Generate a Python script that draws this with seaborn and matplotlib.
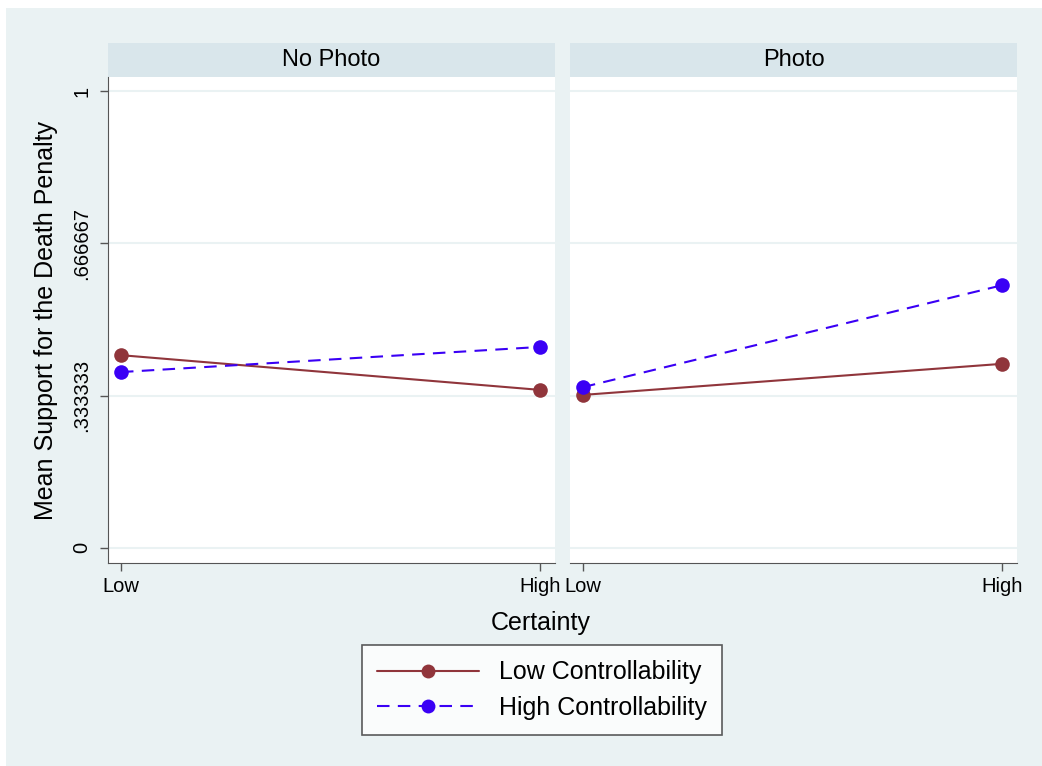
import numpy as np
import pandas as pd
import matplotlib
matplotlib.use("Agg")
import matplotlib.pyplot as plt
import seaborn as sns
from matplotlib.patches import Rectangle
from matplotlib.lines import Line2D

# values
certainty = ["Low", "High"]
photo = ["No Photo", "Photo"]
groups = ["Low Controllability", "High Controllability"]
low_ctrl_no_photo = [0.422, 0.346]
high_ctrl_no_photo = [0.385, 0.440]
low_ctrl_photo = [0.335, 0.403]
high_ctrl_photo = [0.352, 0.575]
yticks = [0, 1/3, 2/3, 1]
ytick_labels = ["0", ".333333", ".666667", "1"]

rows = []
for ph, lo, hi in [(photo[0], low_ctrl_no_photo, high_ctrl_no_photo),
                   (photo[1], low_ctrl_photo, high_ctrl_photo)]:
    for i, c in enumerate(certainty):
        rows.append({"photo": ph, "x": i, "group": groups[0], "support": lo[i]})
        rows.append({"photo": ph, "x": i, "group": groups[1], "support": hi[i]})
df = pd.DataFrame(rows)

bg = "#EAF2F3"
strip = "#D9E6EB"
maroon = "#90353B"
blue = "#3A00F5"
axcol = "#555555"

sns.set_style("white")
plt.rcParams["font.family"] = ["Liberation Sans", "DejaVu Sans"]
plt.rcParams["text.color"] = "black"
plt.rcParams["xtick.color"] = axcol
plt.rcParams["ytick.color"] = axcol
plt.rcParams["xtick.labelcolor"] = "black"
plt.rcParams["ytick.labelcolor"] = "black"

fig = plt.figure(figsize=(10.42, 7.66), dpi=100)
fig.patch.set_facecolor("white")
fig.patches.append(Rectangle((6/1042, 0), 1, 1 - 8/766, transform=fig.transFigure,
                             facecolor=bg, edgecolor="none", zorder=-10))

bottom = (766 - 563) / 766
height = 486 / 766
lefts = [108 / 1042, 570 / 1042]
width = 447 / 1042
palette = {groups[0]: maroon, groups[1]: blue}
dashes = {groups[0]: "", groups[1]: (6, 4)}

axes = []
for k, ph in enumerate(photo):
    ax = fig.add_axes([lefts[k], bottom, width, height])
    ax.set_facecolor("white")
    for y in yticks:
        ax.axhline(y, color=bg, lw=1.5, zorder=0)
    sns.lineplot(data=df[df["photo"] == ph], x="x", y="support", hue="group",
                 style="group", palette=palette, dashes=dashes,
                 markers={groups[0]: "o", groups[1]: "o"}, markersize=10.5,
                 markeredgewidth=0, linewidth=1.5, legend=False, ax=ax, zorder=3)
    ax.set_xlim(-0.031, 1.036)
    ax.set_ylim(-0.033, 1.031)
    ax.set_xticks([0, 1])
    ax.set_xticklabels(certainty, fontsize=14.5)
    ax.set_xlabel("")
    ax.set_ylabel("")
    for s in ["top", "right"]:
        ax.spines[s].set_visible(False)
    ax.spines["bottom"].set_color(axcol)
    ax.spines["left"].set_color(axcol)
    ax.tick_params(axis="x", bottom=True, length=6, width=1, color=axcol, pad=4)
    if k == 0:
        ax.set_yticks(yticks)
        ax.set_yticklabels(ytick_labels, rotation=90, va="center", fontsize=14.5)
        ax.tick_params(axis="y", left=True, length=6, width=1, color=axcol, pad=6)
    else:
        ax.spines["left"].set_visible(False)
        ax.set_yticks([])
    # strip header
    ax.add_patch(Rectangle((0, 1), 1, 34 / 486, transform=ax.transAxes,
                           facecolor=strip, edgecolor="none", clip_on=False))
    ax.text(0.5, 1 + 17 / 486, ph, transform=ax.transAxes, ha="center",
            va="center", fontsize=17)
    axes.append(ax)

fig.text(541 / 1042, 1 - 623 / 766, "Certainty", ha="center", va="center", fontsize=18)
fig.text(46 / 1042, 1 - 320 / 766, "Mean Support for the Death Penalty",
         rotation=90, ha="center", va="center", fontsize=18)

handles = [Line2D([], [], color=maroon, lw=1.5, marker="o", markersize=10, markeredgewidth=0),
           Line2D([], [], color=blue, lw=1.5, ls=(0, (6, 4)), marker="o", markersize=10,
                  markeredgewidth=0)]
leg = fig.legend(handles, groups, loc="center", bbox_to_anchor=(542 / 1042, 1 - 690 / 766),
                 frameon=True, fancybox=False, edgecolor="#333333", fontsize=18,
                 handlelength=4.1, numpoints=1, borderpad=0.6, labelspacing=0.45,
                 handletextpad=0.8, borderaxespad=0)
leg.get_frame().set_linewidth(1.2)

fig.savefig("out.png", dpi=100, facecolor=fig.get_facecolor())
